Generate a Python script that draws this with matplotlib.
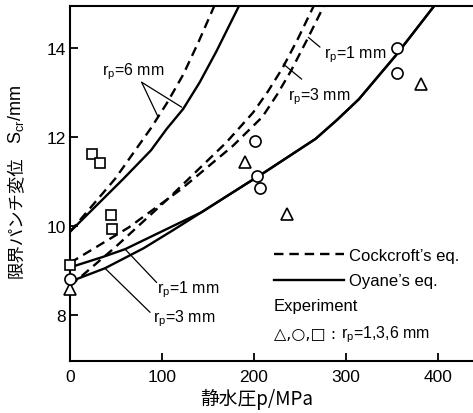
import matplotlib
matplotlib.use('Agg')
import matplotlib.pyplot as plt
from matplotlib.offsetbox import TextArea, HPacker, AnchoredOffsetbox

plt.rcParams['font.family'] = ['Liberation Sans', 'Noto Sans CJK JP', 'DejaVu Sans']
plt.rcParams['mathtext.fontset'] = 'custom'
plt.rcParams['mathtext.rm'] = 'Liberation Sans'
plt.rcParams['mathtext.it'] = 'Liberation Sans:italic'

# ---- data ----
# Cockcroft's eq. (dashed)
ck6_p = [0, 49, 88, 105, 123, 140, 158]
ck6_s = [9.87, 11.06, 12.2, 12.75, 13.4, 14.15, 15.0]
ck3_p = [0, 49, 108, 170, 199, 215, 231, 248, 265]
ck3_s = [8.65, 9.52, 10.64, 11.88, 12.55, 13.02, 13.55, 14.22, 14.95]
ck1_p = [0, 64, 121, 177, 209, 225, 240, 258, 276]
ck1_s = [9.17, 9.97, 10.83, 11.8, 12.45, 12.95, 13.48, 14.2, 14.95]
# Oyane's eq. (solid)
oy6_p = [0, 58, 88, 105, 123, 141, 159, 185]
oy6_s = [9.87, 11.06, 11.7, 12.18, 12.63, 13.23, 13.92, 15.0]
oy1_p = [0, 35, 60, 100, 143, 191, 211, 267, 290, 314, 354, 396]
oy1_s = [9.07, 9.3, 9.48, 9.88, 10.31, 10.94, 11.2, 11.96, 12.38, 12.85, 13.83, 14.95]
oy3_p = [0, 38, 80, 110, 143, 191, 211, 267, 290, 314, 354, 396]
oy3_s = [8.75, 9.05, 9.5, 9.88, 10.31, 10.94, 11.2, 11.96, 12.38, 12.85, 13.83, 14.95]
# Experiment
tri_p = [0, 190, 236, 381]          # rp = 1 mm
tri_s = [8.58, 11.43, 10.28, 13.19]
cir_p = [0, 201, 203, 206, 355, 355]  # rp = 3 mm
cir_s = [8.81, 11.9, 11.13, 10.85, 13.99, 13.44]
sq_p = [0, 45, 46, 24, 33]          # rp = 6 mm
sq_s = [9.12, 10.25, 9.93, 11.62, 11.41]

xticks = [0, 100, 200, 300, 400]
yticks = [8, 10, 12, 14]

W, H = 473, 414
fig = plt.figure(figsize=(W / 100, H / 100), dpi=100)
ax = fig.add_axes([70 / W, 52 / H, 403 / W, 355.5 / H])
ax.set_xlim(0, 438)
ax.set_ylim(6.966, 14.955)
ax.spines['right'].set_visible(False)
for s in ['left', 'bottom', 'top']:
    ax.spines[s].set_linewidth(1.5)
ax.set_xticks(xticks)
ax.set_yticks(yticks)
ax.tick_params(direction='in', length=6, width=1.3, labelsize=12.5)
ax.tick_params(axis='x', pad=6)
ax.tick_params(axis='y', pad=3)
ax.tick_params(right=False, top=False)

lw = 1.7
dash = (4, 2.5)
l_ck, = ax.plot(ck6_p, ck6_s, color='black', lw=lw, dashes=dash, zorder=2)
ax.plot(ck3_p, ck3_s, color='black', lw=lw, dashes=dash, zorder=2)
ax.plot(ck1_p, ck1_s, color='black', lw=lw, dashes=dash, zorder=2)
l_oy, = ax.plot(oy6_p, oy6_s, color='black', lw=lw, zorder=2)
ax.plot(oy1_p, oy1_s, color='black', lw=lw, zorder=2)
ax.plot(oy3_p, oy3_s, color='black', lw=lw, zorder=2)

mk = dict(linestyle='none', markerfacecolor='white', markeredgecolor='black',
          markeredgewidth=1.2, zorder=4, clip_on=False)
ax.plot(tri_p, tri_s, marker='^', markersize=8, **mk)
ax.plot(cir_p, cir_s, marker='o', markersize=8, **mk)
ax.plot(sq_p, sq_s, marker='s', markersize=6.5, **mk)

# annotations
fs_lab = 11.5
lead = dict(arrowstyle='-', lw=0.9, color='black', shrinkA=0, shrinkB=0)
ax.text(34.8, 13.48, r'r$_{\rm p}$=6 mm', fontsize=fs_lab, va='center', ha='left')
ax.annotate('', xy=(96, 12.44), xytext=(77.9, 13.23), arrowprops=lead)
ax.annotate('', xy=(121.4, 12.67), xytext=(77.9, 13.23), arrowprops=lead)

ax.text(276, 13.87, r'r$_{\rm p}$=1 mm', fontsize=fs_lab, va='center', ha='left')
ax.annotate('', xy=(259, 14.24), xytext=(271.7, 14.02), arrowprops=lead)
ax.text(237, 12.93, r'r$_{\rm p}$=3 mm', fontsize=fs_lab, va='center', ha='left')
ax.annotate('', xy=(231.8, 13.64), xytext=(251.8, 13.3), arrowprops=lead)

ax.text(94.6, 8.58, r'r$_{\rm p}$=1 mm', fontsize=fs_lab, va='center', ha='left')
ax.annotate('', xy=(59.8, 9.48), xytext=(94.2, 8.73), arrowprops=lead)
ax.text(90.2, 7.93, r'r$_{\rm p}$=3 mm', fontsize=fs_lab, va='center', ha='left')
ax.annotate('', xy=(38, 9.05), xytext=(87, 8.06), arrowprops=lead)

# legend
leg = ax.legend([l_ck, l_oy], ['Cockcroft\u2019s eq.', 'Oyane\u2019s eq.'],
                loc='upper left', bbox_to_anchor=((274 - 70) / 403, (362 - 249) / 355.5),
                frameon=False, fontsize=12, handlelength=4.2, handletextpad=0.3,
                labelspacing=0.62, borderpad=0, borderaxespad=0)
ax.text((274 - 70) / 403, (362 - 307) / 355.5, 'Experiment', transform=ax.transAxes,
        fontsize=12, va='center', ha='left')
row = HPacker(children=[
    TextArea('\u25b3,\u25cb,\u25a1 : ', textprops=dict(fontsize=11.5, family=['DejaVu Sans'])),
    TextArea(r'r$_{\rm p}$=1,3,6 mm', textprops=dict(fontsize=11.5))],
    sep=0, align='baseline')
ab = AnchoredOffsetbox(loc='center left', child=row, frameon=False, pad=0, borderpad=0,
                       bbox_to_anchor=((274 - 70) / 403, (362 - 335) / 355.5),
                       bbox_transform=ax.transAxes)
ax.add_artist(ab)

# axis labels
fig.text((197 + 316) / 2 / W, 1 - 399 / H, '静水圧p/MPa', fontsize=13.5, ha='center', va='center',
         family=['Noto Sans CJK JP', 'DejaVu Sans'])
fig.text(16 / W, 1 - 217 / H, '限界パンチ変位', fontsize=12.5, rotation=90, ha='center', va='center',
         family=['Noto Sans CJK JP', 'DejaVu Sans'])
fig.text(16 / W, 1 - 114 / H, r'S$_{\rm cr}$/mm', fontsize=13, rotation=90, ha='center', va='center')

fig.savefig('out.png', dpi=100)
